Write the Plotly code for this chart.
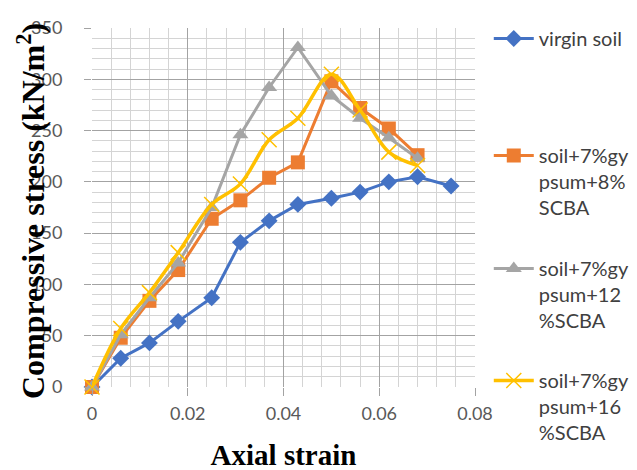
import plotly.graph_objects as go

strain = [0, 0.006, 0.012, 0.018, 0.025, 0.031, 0.037, 0.043, 0.050, 0.056, 0.062, 0.068, 0.075]
virgin_soil = [0, 28, 43, 64, 87, 141, 162, 178, 184, 190, 200, 205, 196]
gyp_scba8 = [0, 48, 84, 114, 164, 182, 204, 219, 298, 272, 252, 226]
gyp_scba12 = [0, 51, 87, 121, 175, 246, 292, 331, 284, 262, 243, 223]
gyp_scba16 = [0, 57, 92, 131, 178, 198, 241, 262, 305, 270, 229, 216]

names = ["virgin soil",
         "soil+7%gy<br>psum+8%<br>SCBA",
         "soil+7%gy<br>psum+12<br>%SCBA",
         "soil+7%gy<br>psum+16<br>%SCBA"]

xticks = [0, 0.02, 0.04, 0.06, 0.08]
xticklabels = ["0", "0.02", "0.04", "0.06", "0.08"]
yticks = [0, 50, 100, 150, 200, 250, 300, 350]

fig = go.Figure()
fig.add_trace(go.Scatter(x=strain, y=virgin_soil, name=names[0], mode="lines+markers",
                         line=dict(color="#4472C4", width=3),
                         marker=dict(symbol="diamond", size=13, color="#4472C4"),
                         cliponaxis=False, legend="legend"))
fig.add_trace(go.Scatter(x=strain[:12], y=gyp_scba8, name=names[1], mode="lines+markers",
                         line=dict(color="#ED7D31", width=3),
                         marker=dict(symbol="square", size=14, color="#ED7D31"),
                         cliponaxis=False, legend="legend2"))
fig.add_trace(go.Scatter(x=strain[:12], y=gyp_scba12, name=names[2], mode="lines+markers",
                         line=dict(color="#A5A5A5", width=3),
                         marker=dict(symbol="triangle-up", size=14, color="#A5A5A5"),
                         cliponaxis=False, legend="legend3"))
fig.add_trace(go.Scatter(x=strain[:12], y=gyp_scba16, name=names[3], mode="lines+markers",
                         line=dict(color="#FFC000", width=3.5, shape="spline", smoothing=1),
                         marker=dict(symbol="x-thin", size=15, color="#FFC000",
                                     line=dict(color="#FFC000", width=1.5)),
                         cliponaxis=False, legend="legend4"))

legfont = dict(family="Lato, sans-serif", size=20, color="#404040")
def leg(ypix):
    return dict(x=1.036, xanchor="left", y=(379 - ypix) / 359, yanchor="top",
                font=legfont, bgcolor="rgba(0,0,0,0)", valign="top",
                itemwidth=40, tracegroupgap=0)

fig.update_layout(
    width=637, height=470,
    margin=dict(l=84, r=170, t=20, b=91, autoexpand=False),
    paper_bgcolor="white", plot_bgcolor="white",
    showlegend=True,
    legend=leg(11), legend2=leg(128), legend3=leg(241), legend4=leg(353),
    xaxis=dict(range=[0, 0.08], tickvals=xticks, ticktext=xticklabels,
               showgrid=True, gridcolor="#a3a3a3", gridwidth=1,
               minor=dict(dtick=0.004, showgrid=True, gridcolor="#d4d4d4", gridwidth=1),
               ticks="outside", ticklen=8, tickcolor="#a3a3a3",
               tickfont=dict(family="Lato, sans-serif", size=18, color="#595959"),
               ticklabelstandoff=2, zeroline=False, showline=False,
               title=dict(text="<b>Axial strain</b>", standoff=22,
                          font=dict(family="Liberation Serif, serif", size=29, color="black"))),
    yaxis=dict(range=[0, 350], tickvals=yticks,
               showgrid=True, gridcolor="#a3a3a3", gridwidth=1,
               minor=dict(dtick=10, showgrid=True, gridcolor="#d4d4d4", gridwidth=1),
               ticks="outside", ticklen=7, tickcolor="#a3a3a3",
               tickfont=dict(family="Lato, sans-serif", size=18, color="#595959"),
               ticklabelstandoff=18, zeroline=False, showline=False),
    annotations=[dict(text="<b>Compressive stress (kN/m<sup>2</sup>)</b>", textangle=-90,
                      xref="paper", yref="paper", x=(23 - 84) / 383, y=0.49,
                      xanchor="center", yanchor="middle", showarrow=False,
                      font=dict(family="Liberation Serif, serif", size=32, color="black"))],
)

fig.write_html("out.html")
